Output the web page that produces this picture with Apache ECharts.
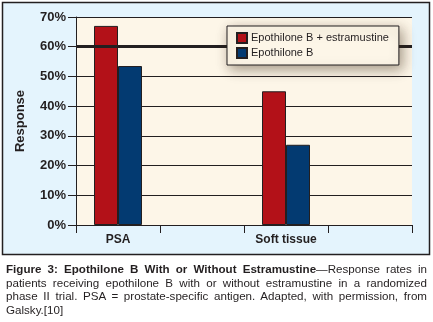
<!DOCTYPE html>
<html>
<head>
<meta charset="utf-8">
<script src="https://cdn.jsdelivr.net/npm/echarts@6/dist/echarts.min.js"></script>
<style>
  html, body { margin: 0; padding: 0; background: #ffffff; }
  #wrap { position: relative; width: 433px; height: 322px; }
  #chart { position: absolute; left: 0; top: 0; width: 433px; height: 322px; }
  #caption {
    position: absolute; left: 6px; top: 262px; width: 421px;
    font-family: "Liberation Sans", Arial, Helvetica, sans-serif;
    font-size: 11.6px; line-height: 13.6px; color: #231f20;
    text-align: justify;
  }
  #caption b { font-weight: bold; }
</style>
</head>
<body>
<div id="wrap">
  <div id="chart"></div>
  <div id="caption"><b>Figure 3: Epothilone B With or Without Estramustine</b>&mdash;Response rates in patients receiving epothilone B with or without estramustine in a randomized phase II trial. PSA = prostate-specific antigen. Adapted, with permission, from Galsky.[10]</div>
</div>
<script>
// Response endpoints (two are blank spacer slots on the axis)
const categories = ['PSA', '', 'Soft tissue', ''];
const comboName = 'Epothilone B + estramustine';
const soloName = 'Epothilone B';
const comboValues = [67, null, 45, null];
const soloValues = [53.5, null, 27, null];
const yTicks = { min: 0, max: 70, interval: 10 };
const refLineValue = 60;

const FONT = '"Liberation Sans", Arial, Helvetica, sans-serif';
const INK = '#231f20';

const chart = echarts.init(document.getElementById('chart'), null, { renderer: 'canvas' });

chart.setOption({
  animation: false,
  backgroundColor: '#ffffff',
  textStyle: { fontFamily: FONT },
  graphic: [{
    type: 'rect',
    z: -10,
    shape: { x: 2.5, y: 2.5, width: 427, height: 252 },
    style: { fill: '#e4f4fd', stroke: INK, lineWidth: 1.5 }
  }],
  grid: {
    left: 76, right: 21, top: 17, bottom: 97,
    show: true, backgroundColor: '#fdf6e8', borderWidth: 0
  },
  legend: {
    z: 20,
    orient: 'vertical',
    left: 227, top: 26,
    padding: [6, 10, 6, 9],
    icon: 'rect',
    itemWidth: 10, itemHeight: 10, itemGap: 3,
    backgroundColor: '#fdf6e8',
    borderColor: INK, borderWidth: 1,
    shadowBlur: 12, shadowColor: 'rgba(60,40,20,0.45)', shadowOffsetX: 3, shadowOffsetY: 4,
    textStyle: { fontFamily: FONT, fontSize: 11, color: INK, padding: [0, 0, 0, -1] },
    data: [comboName, soloName]
  },
  xAxis: {
    type: 'category',
    data: categories,
    axisLine: { show: true, lineStyle: { color: INK, width: 1 } },
    axisTick: { show: true, length: 8, lineStyle: { color: INK, width: 1 } },
    axisLabel: { fontFamily: FONT, fontSize: 12, fontWeight: 'bold', color: INK, margin: 9 },
    splitLine: { show: false }
  },
  yAxis: {
    type: 'value',
    min: yTicks.min, max: yTicks.max, interval: yTicks.interval,
    name: 'Response',
    nameLocation: 'middle',
    nameRotate: 90,
    nameGap: 49,
    nameTextStyle: { fontFamily: FONT, fontSize: 13, fontWeight: 'bold', color: INK },
    axisLine: { show: true, lineStyle: { color: INK, width: 1 } },
    axisTick: { show: true, length: 8, lineStyle: { color: INK, width: 1 } },
    axisLabel: { formatter: '{value}%', fontFamily: FONT, fontSize: 13, fontWeight: 'bold', color: INK, margin: 10 },
    splitLine: { show: true, lineStyle: { color: INK, width: 1 } }
  },
  series: [
    {
      name: comboName,
      type: 'bar',
      data: comboValues,
      barWidth: 24,
      barGap: '0%',
      itemStyle: { color: '#b31118', borderColor: INK, borderWidth: 1 },
      markLine: {
        silent: true,
        symbol: 'none',
        label: { show: false },
        lineStyle: { color: INK, width: 3, type: 'solid' },
        data: [{ yAxis: refLineValue }]
      }
    },
    {
      name: soloName,
      type: 'bar',
      data: soloValues,
      barWidth: 24,
      itemStyle: { color: '#033a71', borderColor: INK, borderWidth: 1 }
    }
  ]
});
</script>
</body>
</html>
